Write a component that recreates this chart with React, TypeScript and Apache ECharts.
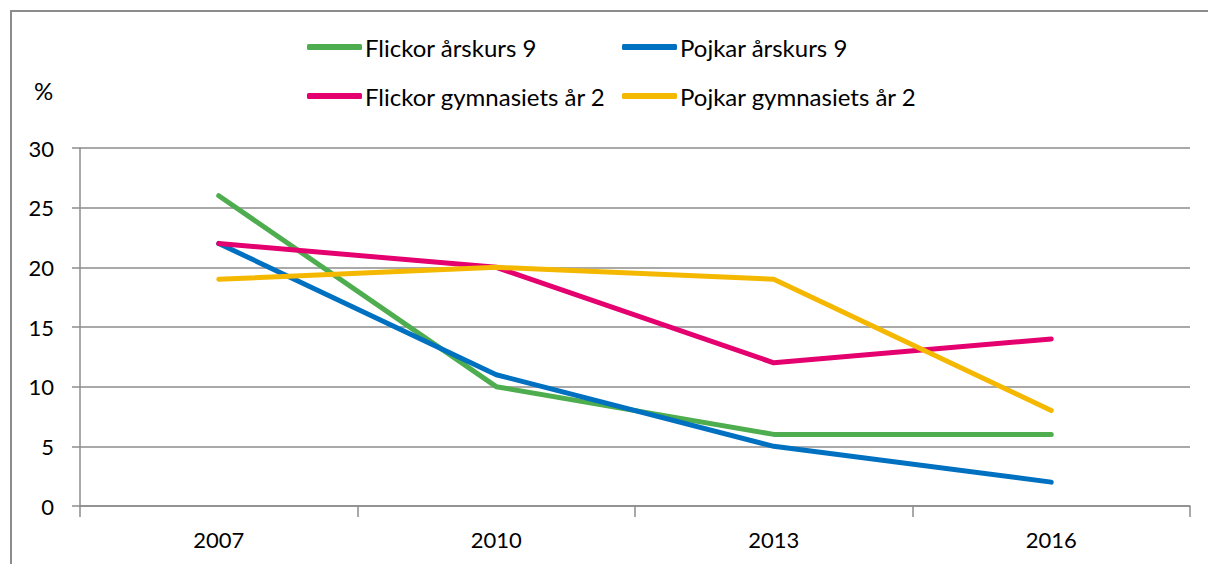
import React, { useEffect, useRef } from "react";
import * as echarts from "echarts";

const years = ["2007", "2010", "2013", "2016"];
const flickorAk9 = [26, 10, 6, 6];
const pojkarAk9 = [22, 11, 5, 2];
const flickorGym = [22, 20, 12, 14];
const pojkarGym = [19, 20, 19, 8];
const seriesNames = [
  "Flickor årskurs 9",
  "Pojkar årskurs 9",
  "Flickor gymnasiets år 2",
  "Pojkar gymnasiets år 2",
];
const colors = ["#4EAD4E", "#0070C0", "#E4006F", "#F5B800"];

const FONT = "Lato, 'Open Sans', sans-serif";

export default function App() {
  const ref = useRef<HTMLDivElement>(null);
  useEffect(() => {
    if (!ref.current) return;
    const chart = echarts.init(ref.current, null, { renderer: "svg" });
    const values = [flickorAk9, pojkarAk9, flickorGym, pojkarGym];
    const legendCommon = {
      orient: "vertical" as const,
      top: 35,
      itemWidth: 55,
      itemHeight: 6,
      itemGap: 25,
      icon: "roundRect",
      textStyle: { fontSize: 24, color: "#000", fontFamily: FONT, padding: [0, 0, 0, -2] },
      padding: 0,
    };
    chart.setOption({
      animation: false,
      textStyle: { fontFamily: FONT },
      title: {
        text: "%",
        left: 29,
        top: 73,
        textStyle: { fontSize: 24, fontWeight: "normal", color: "#000", fontFamily: FONT },
      },
      legend: [
        { ...legendCommon, left: 307, data: [seriesNames[0], seriesNames[2]] },
        { ...legendCommon, left: 622, data: [seriesNames[1], seriesNames[3]] },
      ],
      graphic: [
        {
          type: "rect",
          shape: { x: 11, y: 11, width: 1220, height: 600 },
          style: { fill: "none", stroke: "#8c8c8c", lineWidth: 2 },
          silent: true,
        },
      ],
      grid: { left: 80, right: 18, top: 148, bottom: 58 },
      xAxis: {
        type: "category",
        data: years,
        boundaryGap: true,
        axisLine: { lineStyle: { color: "#8c8c8c", width: 1.5 } },
        axisTick: { show: true, interval: 0, length: 11, lineStyle: { color: "#8c8c8c", width: 1.5 } },
        axisLabel: { fontSize: 22, color: "#000", margin: 22, fontFamily: FONT },
      },
      yAxis: {
        type: "value",
        min: 0,
        max: 30,
        interval: 5,
        axisLine: { show: true, lineStyle: { color: "#8c8c8c", width: 1.5 } },
        axisTick: { show: true, length: 8, lineStyle: { color: "#8c8c8c", width: 1.5 } },
        axisLabel: { fontSize: 22, color: "#000", margin: 26, fontFamily: FONT },
        splitLine: { show: true, lineStyle: { color: "#8c8c8c", width: 1.5 } },
      },
      series: seriesNames.map((name, i) => ({
        name,
        type: "line",
        data: values[i],
        symbol: "none",
        color: colors[i],
        lineStyle: { width: 5, color: colors[i], cap: "round", join: "round" },
      })),
    });
    return () => chart.dispose();
  }, []);
  return (
    <div
      ref={ref}
      style={{ position: "absolute", left: 0, top: 0, width: 1208, height: 564, background: "#fff" }}
    />
  );
}
